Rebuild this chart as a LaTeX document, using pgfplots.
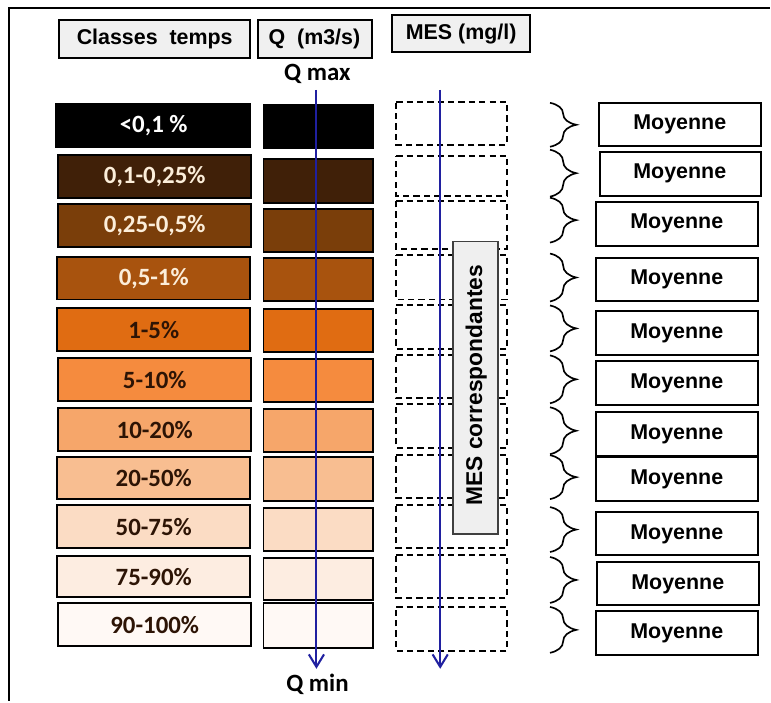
\documentclass[border=0pt]{standalone}
\usepackage{pgfplots}
\pgfplotsset{compat=1.18}
\usepackage{fontspec}
\setmainfont{Liberation Sans}
\newfontfamily\calibri{Carlito}
\usetikzlibrary{arrows.meta,decorations.pathreplacing}

\definecolor{hdr}{RGB}{240,240,240}
\definecolor{cA}{RGB}{0,0,0}
\definecolor{cB}{RGB}{64,32,8}
\definecolor{cC}{RGB}{122,62,10}
\definecolor{cD}{RGB}{168,83,14}
\definecolor{cE}{RGB}{224,108,18}
\definecolor{cF}{RGB}{245,139,62}
\definecolor{cG}{RGB}{246,166,106}
\definecolor{cH}{RGB}{248,190,145}
\definecolor{cI}{RGB}{251,220,196}
\definecolor{cJ}{RGB}{253,237,225}
\definecolor{cK}{RGB}{255,249,245}
\definecolor{cream}{RGB}{252,238,218}
\definecolor{darktxt}{RGB}{45,20,5}
\definecolor{arrowblue}{RGB}{32,32,160}
\definecolor{mesgray}{RGB}{239,239,239}

% box from (x1,y1) to (x2,y2) in picture pixels
\newcommand{\rect}[5]{\addplot[#5] coordinates {(#1,#2) (#3,#2) (#3,#4) (#1,#4)} -- cycle;}

\begin{document}
\begin{tikzpicture}
\begin{axis}[
    scale only axis,
    width=7.71in, height=7.02in,
    xmin=0, xmax=771, ymin=0, ymax=702,
    y dir=reverse,
    hide axis, clip=false,
]
\addplot[draw=none] coordinates {(0,0) (771,702)};

% outer frame (top and left only)
\addplot[black, line width=2pt] coordinates {(9,702) (9,8) (771,8)};

% headers
\rect{59}{20}{250}{58}{fill=hdr, draw=black, line width=1.4pt}
\rect{258}{20}{373}{58}{fill=hdr, draw=black, line width=1.4pt}
\rect{393}{15}{531}{52}{fill=hdr, draw=black, line width=1.4pt}

% time classes
\rect{56}{104}{250}{147}{fill=cA, draw=black, line width=1.4pt}
\rect{58}{155}{251}{198}{fill=cB, draw=black, line width=1.4pt}
\rect{58}{204}{251}{247}{fill=cC, draw=black, line width=1.4pt}
\rect{57}{257}{250}{300}{fill=cD, draw=black, line width=1.4pt}
\rect{57}{309}{250}{352}{fill=cE, draw=black, line width=1.4pt}
\rect{58}{359}{251}{402}{fill=cF, draw=black, line width=1.4pt}
\rect{58}{409}{251}{452}{fill=cG, draw=black, line width=1.4pt}
\rect{57}{458}{250}{500}{fill=cH, draw=black, line width=1.4pt}
\rect{57}{506}{250}{549}{fill=cI, draw=black, line width=1.4pt}
\rect{57}{557}{250}{598}{fill=cJ, draw=black, line width=1.4pt}
\rect{58}{604}{251}{647}{fill=cK, draw=black, line width=1.4pt}

% Q column
\rect{264}{105}{374}{148}{fill=cA, draw=black, line width=1.4pt}
\rect{264}{159}{374}{203}{fill=cB, draw=black, line width=1.4pt}
\rect{264}{209}{374}{252}{fill=cC, draw=black, line width=1.4pt}
\rect{264}{258}{374}{302}{fill=cD, draw=black, line width=1.4pt}
\rect{264}{310}{374}{353}{fill=cE, draw=black, line width=1.4pt}
\rect{264}{360}{374}{403}{fill=cF, draw=black, line width=1.4pt}
\rect{264}{410}{374}{453}{fill=cG, draw=black, line width=1.4pt}
\rect{264}{458}{374}{502}{fill=cH, draw=black, line width=1.4pt}
\rect{264}{509}{374}{552}{fill=cI, draw=black, line width=1.4pt}
\rect{264}{559}{374}{601}{fill=cJ, draw=black, line width=1.4pt}
\rect{264}{604}{374}{649}{fill=cK, draw=black, line width=1.4pt}

% MES column (dashed)
\rect{397}{102}{508}{145}{draw=black, line width=1.4pt, dash pattern=on 4.5pt off 3pt}
\rect{397}{156}{508}{196}{draw=black, line width=1.4pt, dash pattern=on 4.5pt off 3pt}
\rect{397}{201}{508}{249}{draw=black, line width=1.4pt, dash pattern=on 4.5pt off 3pt}
\rect{397}{255}{508}{300}{draw=black, line width=1.4pt, dash pattern=on 4.5pt off 3pt}
\rect{397}{306}{508}{350}{draw=black, line width=1.4pt, dash pattern=on 4.5pt off 3pt}
\rect{397}{356}{508}{399}{draw=black, line width=1.4pt, dash pattern=on 4.5pt off 3pt}
\rect{397}{405}{508}{449}{draw=black, line width=1.4pt, dash pattern=on 4.5pt off 3pt}
\rect{397}{456}{508}{499}{draw=black, line width=1.4pt, dash pattern=on 4.5pt off 3pt}
\rect{397}{506}{508}{549}{draw=black, line width=1.4pt, dash pattern=on 4.5pt off 3pt}
\rect{397}{556}{508}{599}{draw=black, line width=1.4pt, dash pattern=on 4.5pt off 3pt}
\rect{397}{608}{508}{652}{draw=black, line width=1.4pt, dash pattern=on 4.5pt off 3pt}

% arrows
\addplot[arrowblue, line width=1.5pt, -{Straight Barb[length=9pt,width=11pt]}] coordinates {(317,90) (317,670)};
\addplot[arrowblue, line width=1.5pt, -{Straight Barb[length=9pt,width=11pt]}] coordinates {(441,90) (441,670)};

% MES correspondantes box
\rect{454}{242}{499}{535}{fill=mesgray, draw=black!75, line width=1.3pt}

% braces
\addplot[black, line width=1.2pt, decorate, decoration={brace, amplitude=19pt}] coordinates {(551,103) (551,147)};
\addplot[black, line width=1.2pt, decorate, decoration={brace, amplitude=19pt}] coordinates {(551,150) (551,197)};
\addplot[black, line width=1.2pt, decorate, decoration={brace, amplitude=19pt}] coordinates {(551,198) (551,243)};
\addplot[black, line width=1.2pt, decorate, decoration={brace, amplitude=19pt}] coordinates {(551,254) (551,302)};
\addplot[black, line width=1.2pt, decorate, decoration={brace, amplitude=19pt}] coordinates {(551,306) (551,352)};
\addplot[black, line width=1.2pt, decorate, decoration={brace, amplitude=19pt}] coordinates {(551,356) (551,404)};
\addplot[black, line width=1.2pt, decorate, decoration={brace, amplitude=19pt}] coordinates {(551,408) (551,455)};
\addplot[black, line width=1.2pt, decorate, decoration={brace, amplitude=19pt}] coordinates {(551,456) (551,500)};
\addplot[black, line width=1.2pt, decorate, decoration={brace, amplitude=19pt}] coordinates {(551,508) (551,553)};
\addplot[black, line width=1.2pt, decorate, decoration={brace, amplitude=19pt}] coordinates {(551,558) (551,604)};
\addplot[black, line width=1.2pt, decorate, decoration={brace, amplitude=19pt}] coordinates {(551,608) (551,654)};

% Moyenne boxes
\rect{600}{103}{762}{146}{fill=white, draw=black, line width=1.4pt}
\rect{601}{152}{762}{196}{fill=white, draw=black, line width=1.4pt}
\rect{597}{202}{759}{246}{fill=white, draw=black, line width=1.4pt}
\rect{597}{258}{759}{302}{fill=white, draw=black, line width=1.4pt}
\rect{597}{312}{759}{356}{fill=white, draw=black, line width=1.4pt}
\rect{597}{362}{759}{406}{fill=white, draw=black, line width=1.4pt}
\rect{597}{413}{759}{457}{fill=white, draw=black, line width=1.4pt}
\rect{597}{458}{759}{502}{fill=white, draw=black, line width=1.4pt}
\rect{597}{513}{759}{556}{fill=white, draw=black, line width=1.4pt}
\rect{598}{563}{760}{606}{fill=white, draw=black, line width=1.4pt}
\rect{597}{612}{759}{656}{fill=white, draw=black, line width=1.4pt}

% texts
\begin{scope}[every node/.style={font=\fontsize{15.5}{18}\selectfont\bfseries}]
\node at (axis cs:155,39) {Classes\ \ temps};
\node at (axis cs:315,39) {Q\ \ (m3/s)};
\node at (axis cs:462,34) {MES (mg/l)};
\node[rotate=90, font=\fontsize{16.5}{19}\selectfont\bfseries] at (axis cs:477,386) {MES correspondantes};
\node at (axis cs:681,125) {Moyenne};
\node at (axis cs:681,174) {Moyenne};
\node at (axis cs:678,224) {Moyenne};
\node at (axis cs:678,280) {Moyenne};
\node at (axis cs:678,334) {Moyenne};
\node at (axis cs:678,384) {Moyenne};
\node at (axis cs:678,435) {Moyenne};
\node at (axis cs:678,480) {Moyenne};
\node at (axis cs:678,535) {Moyenne};
\node at (axis cs:679,585) {Moyenne};
\node at (axis cs:678,634) {Moyenne};
\end{scope}

\begin{scope}[every node/.style={font=\calibri\fontsize{18}{21}\selectfont\bfseries}]
\node at (axis cs:318,74) {Q max};
\node at (axis cs:318,686) {Q min};
\node[white] at (axis cs:154,126) {<0,1 \%};
\node[cream] at (axis cs:155,177) {0,1-0,25\%};
\node[cream] at (axis cs:155,226) {0,25-0,5\%};
\node[cream] at (axis cs:154,279) {0,5-1\%};
\node[darktxt] at (axis cs:154,331) {1-5\%};
\node[darktxt] at (axis cs:155,381) {5-10\%};
\node[darktxt] at (axis cs:155,431) {10-20\%};
\node[darktxt] at (axis cs:154,479) {20-50\%};
\node[darktxt] at (axis cs:154,528) {50-75\%};
\node[darktxt] at (axis cs:154,578) {75-90\%};
\node[darktxt] at (axis cs:155,626) {90-100\%};
\end{scope}
\end{axis}
\end{tikzpicture}
\end{document}
